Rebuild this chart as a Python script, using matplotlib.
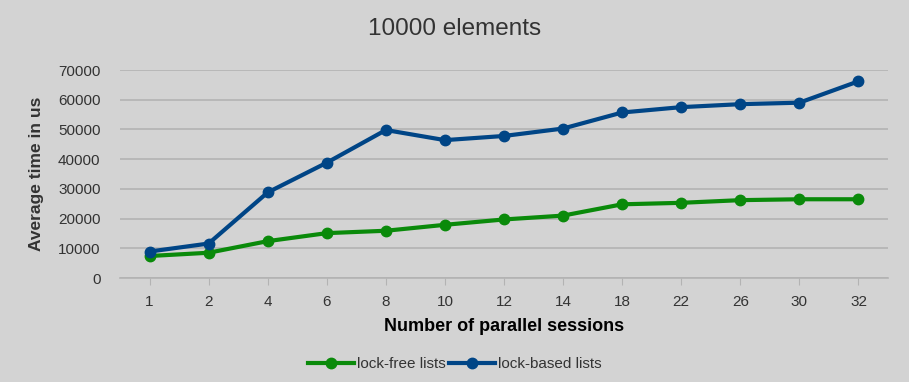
import matplotlib.pyplot as plt

plt.rcParams['font.family'] = ['Liberation Sans', 'DejaVu Sans']

sessions = ['1', '2', '4', '6', '8', '10', '12', '14', '18', '22', '26', '30', '32']
lock_free = [7400, 8500, 12400, 15100, 15900, 17900, 19700, 21000, 24800, 25300, 26200, 26500, 26500]
lock_based = [8900, 11600, 28800, 38800, 49800, 46400, 47800, 50300, 55700, 57500, 58500, 59000, 66200]

bg = '#d3d3d3'
txt = '#333333'

fig = plt.figure(figsize=(9.09, 3.82), dpi=100, facecolor=bg)
ax = fig.add_axes([120 / 909, 1 - 278 / 382, 768 / 909, 208 / 382], facecolor=bg)

x = range(len(sessions))
ax.plot(x, lock_free, color='#0a8a0a', marker='o', markersize=7.5, linewidth=3, label='lock-free lists', zorder=3)
ax.plot(x, lock_based, color='#004586', marker='o', markersize=7.5, linewidth=3, label='lock-based lists', zorder=3)

ax.set_xlim(-0.5, len(sessions) - 0.5)
ax.set_ylim(0, 70000)
ax.set_yticks(range(0, 70001, 10000))
ax.set_xticks(list(x))
ax.set_xticklabels(sessions)
ax.grid(axis='y', color='#b3b3b3', linewidth=1.2)
ax.set_axisbelow(True)
for s in ['top', 'right', 'left']:
    ax.spines[s].set_visible(False)
ax.spines['bottom'].set_color('#b3b3b3')
ax.spines['bottom'].set_linewidth(1.2)
ax.tick_params(axis='y', length=0, labelsize=11, labelcolor=txt, pad=14)
ax.tick_params(axis='x', length=5, color='#b3b3b3', labelsize=11, labelcolor=txt, pad=7)

fig.text(0.5, 1 - 29 / 382, '10000 elements', fontsize=17.5, color=txt, ha='center', va='center')
ax.set_xlabel('Number of parallel sessions', fontsize=13, fontweight='bold', color='black', labelpad=7)
ax.set_ylabel('Average time in us', fontsize=12.5, fontweight='bold', color=txt, labelpad=10)

fig.legend(loc='center', bbox_to_anchor=(455 / 909, 1 - 364 / 382), ncol=2, frameon=False,
           fontsize=11, labelcolor=txt, handlelength=3, columnspacing=0.2, handletextpad=0.2)

plt.savefig('out.png', dpi=100, facecolor=bg)
